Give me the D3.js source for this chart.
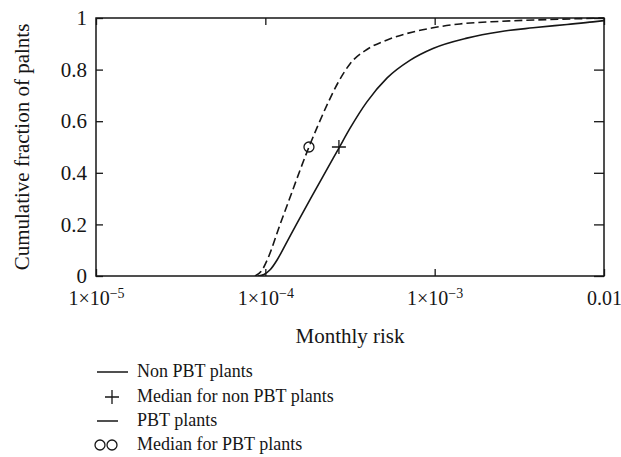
<!DOCTYPE html>
<html>
<head>
<meta charset="utf-8">
<script src="https://cdn.jsdelivr.net/npm/d3@7"></script>
<style>
  html, body { margin: 0; padding: 0; background: #fff; }
  svg { display: block; font-family: "Liberation Serif", "Times New Roman", serif; }
</style>
</head>
<body>
<svg id="chart" width="621" height="457"></svg>
<script>
// ---------- data ----------
const nonPbtRisk = [9.06e-5, 9.82e-5, 1.067e-4, 1.173e-4, 1.306e-4, 1.54e-4, 1.86e-4, 2.25e-4, 2.72e-4, 3.16e-4, 3.98e-4, 5.24e-4, 7.14e-4, 9.77e-4, 1.55e-3, 2.43e-3, 3.81e-3, 6.05e-3, 8.61e-3, 1.0e-2];
const nonPbtFrac = [0, 0.006, 0.024, 0.062, 0.118, 0.205, 0.303, 0.4, 0.496, 0.572, 0.675, 0.768, 0.836, 0.882, 0.922, 0.947, 0.962, 0.975, 0.985, 0.99];
const pbtRisk = [8.69e-5, 9.55e-5, 1.038e-4, 1.222e-4, 1.40e-4, 1.603e-4, 1.81e-4, 2.05e-4, 2.34e-4, 2.69e-4, 3.16e-4, 3.98e-4, 5.24e-4, 7.45e-4, 9.77e-4, 1.41e-3, 2.43e-3, 4.80e-3, 1.0e-2];
const pbtFrac = [0, 0.022, 0.07, 0.2, 0.305, 0.41, 0.5, 0.585, 0.67, 0.75, 0.822, 0.878, 0.915, 0.946, 0.962, 0.977, 0.987, 0.994, 1.0];
const nonPbtMedian = [2.72e-4, 0.5];
const pbtMedian = [1.81e-4, 0.5];
const xTickValues = [1e-5, 1e-4, 1e-3, 1e-2];
const xTickBase = ["1×10", "1×10", "1×10", "0.01"];
const xTickExp = ["−5", "−4", "−3", ""];
const yTickValues = [0, 0.2, 0.4, 0.6, 0.8, 1];
const yTickLabels = ["0", "0.2", "0.4", "0.6", "0.8", "1"];
const legendLabels = ["Non PBT plants", "Median for non PBT plants", "PBT plants", "Median for PBT plants"];
const xTitle = "Monthly risk";
const yTitle = "Cumulative fraction of palnts";

// ---------- layout ----------
const L = 96, R = 604, T = 18, B = 276;
const ink = "#161616";
const svg = d3.select("#chart");

const x = d3.scaleLog().domain([1e-5, 1e-2]).range([L, R]);
const y = d3.scaleLinear().domain([0, 1]).range([B, T]);

// axes (ticks inward)
const gB = svg.append("g").attr("transform", `translate(0,${B})`)
  .call(d3.axisBottom(x).tickValues(xTickValues).tickSizeInner(-7).tickSizeOuter(0).tickFormat(""));
const gT = svg.append("g").attr("transform", `translate(0,${T})`)
  .call(d3.axisTop(x).tickValues(xTickValues).tickSizeInner(-7).tickSizeOuter(0).tickFormat(""));
const gL = svg.append("g").attr("transform", `translate(${L},0)`)
  .call(d3.axisLeft(y).tickValues(yTickValues).tickSizeInner(-7).tickSizeOuter(0).tickPadding(9)
    .tickFormat((d, i) => yTickLabels[i]));
const gR = svg.append("g").attr("transform", `translate(${R},0)`)
  .call(d3.axisRight(y).tickValues(yTickValues).tickSizeInner(-10).tickSizeOuter(0).tickFormat(""));

[gB, gT, gL, gR].forEach(g => {
  g.select(".domain").remove();
  g.selectAll(".tick line").attr("stroke", ink).attr("stroke-width", 1.3);
});
gL.selectAll(".tick text")
  .attr("font-size", 21).attr("fill", ink)
  .attr("font-family", "Liberation Serif").attr("dy", "0.32em");

// x tick labels with superscripts
gB.selectAll(".tick").each(function(d, i) {
  const t = d3.select(this).select("text")
    .attr("y", 29).attr("dy", 0)
    .attr("font-size", 20).attr("fill", ink)
    .attr("font-family", "Liberation Serif")
    .attr("text-anchor", "middle");
  t.text(null);
  t.append("tspan").text(xTickBase[i]);
  if (xTickExp[i]) t.append("tspan").attr("dy", -7).attr("font-size", 14).text(xTickExp[i]);
});

// frame
svg.append("rect").attr("x", L).attr("y", T).attr("width", R - L).attr("height", B - T)
  .attr("fill", "none").attr("stroke", ink).attr("stroke-width", 1.5);

// curves
const line = d3.line().x(d => x(d[0])).y(d => y(d[1])).curve(d3.curveMonotoneX);
const nonPbt = nonPbtRisk.map((r, i) => [r, nonPbtFrac[i]]);
const pbt = pbtRisk.map((r, i) => [r, pbtFrac[i]]);

svg.append("clipPath").attr("id", "clip").append("rect")
  .attr("x", L).attr("y", T - 1).attr("width", R - L).attr("height", B - T + 1);

svg.append("path").attr("d", line(nonPbt)).attr("fill", "none")
  .attr("stroke", ink).attr("stroke-width", 1.6).attr("clip-path", "url(#clip)");
svg.append("path").attr("d", line(pbt)).attr("fill", "none")
  .attr("stroke", ink).attr("stroke-width", 1.6).attr("stroke-dasharray", "8,4")
  .attr("clip-path", "url(#clip)");

// medians
const px = x(nonPbtMedian[0]), py = y(nonPbtMedian[1]);
svg.append("path").attr("d", `M${px - 7},${py}H${px + 7}M${px},${py - 7}V${py + 7}`)
  .attr("stroke", ink).attr("stroke-width", 1.3).attr("fill", "none");
svg.append("circle").attr("cx", x(pbtMedian[0])).attr("cy", y(pbtMedian[1])).attr("r", 5)
  .attr("fill", "none").attr("stroke", ink).attr("stroke-width", 1.3);

// axis titles
svg.append("text").attr("x", (L + R) / 2).attr("y", 343).attr("text-anchor", "middle")
  .attr("font-size", 21).attr("fill", ink).text(xTitle);
svg.append("text").attr("transform", `translate(29,${(T + B) / 2}) rotate(-90)`)
  .attr("text-anchor", "middle").attr("font-size", 21).attr("fill", ink).text(yTitle);

// legend
const legY = [377, 402, 426, 450];
const lg = svg.append("g");
legendLabels.forEach((lab, i) => {
  lg.append("text").attr("x", 137).attr("y", legY[i]).attr("font-size", 18)
    .attr("fill", ink).text(lab);
});
const sy = legY.map(v => v - 5);
lg.append("line").attr("x1", 97).attr("x2", 128).attr("y1", sy[0]).attr("y2", sy[0])
  .attr("stroke", ink).attr("stroke-width", 1.5);
lg.append("path").attr("d", `M${112 - 7},${sy[1]}H${112 + 7}M112,${sy[1] - 7}V${sy[1] + 7}`)
  .attr("stroke", ink).attr("stroke-width", 1.3);
lg.append("line").attr("x1", 97).attr("x2", 118).attr("y1", sy[2]).attr("y2", sy[2])
  .attr("stroke", ink).attr("stroke-width", 1.5);
[100, 112].forEach(cx => lg.append("circle").attr("cx", cx).attr("cy", sy[3]).attr("r", 5)
  .attr("fill", "none").attr("stroke", ink).attr("stroke-width", 1.3));
</script>
</body>
</html>
